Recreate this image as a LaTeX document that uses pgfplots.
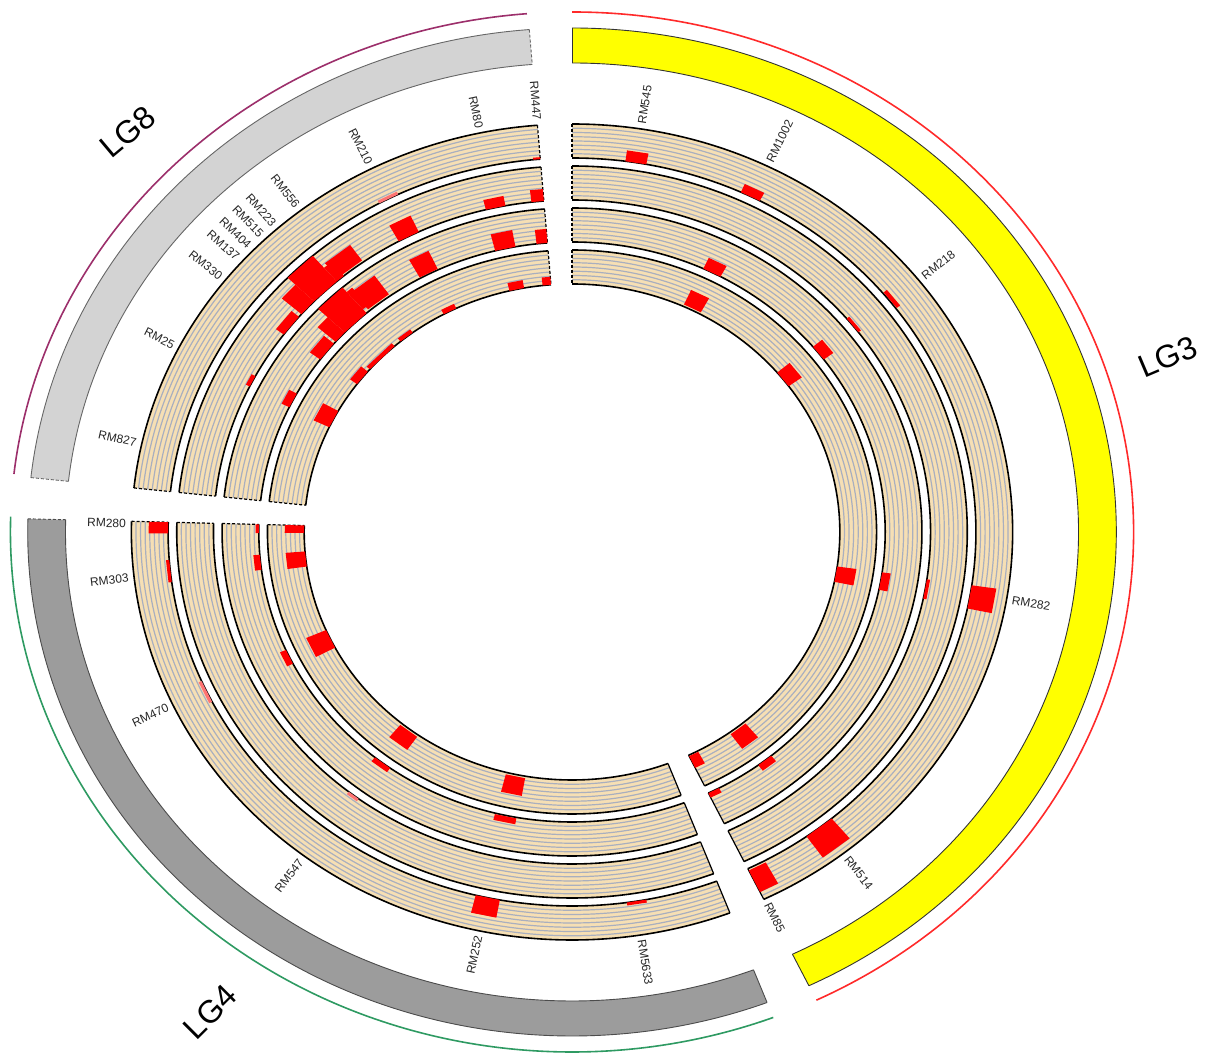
\documentclass[border=0pt]{standalone}
\usepackage{pgfplots}
\pgfplotsset{compat=1.18}
\usepackage{fontspec}
\setmainfont{Liberation Sans}

\definecolor{tanC}{HTML}{F6DFB4}
\definecolor{subC}{HTML}{A9AFBF}
\definecolor{lgEight}{HTML}{D3D3D3}
\definecolor{lgEightLine}{HTML}{9C2F6B}
\definecolor{lgFour}{HTML}{9C9C9C}
\definecolor{lgFourLine}{HTML}{2E9A62}
\definecolor{lgThree}{HTML}{FFFF00}
\definecolor{lgThreeLine}{HTML}{FF2A2A}

\pgfdeclarelayer{bg}
\pgfsetlayers{bg,main}

% one track: start angle, end angle, outer radius, inner radius, style of start cap, style of end cap
\newcommand{\ring}[6]{%
  \fill[tanC] (#1:#3) arc[start angle=#1,end angle=#2,radius=#3] -- (#2:#4) arc[start angle=#2,end angle=#1,radius=#4] -- cycle;
  \foreach \k in {1,...,7}{%
    \pgfmathsetmacro\rr{#3-\k*(#3-#4)/8}%
    \draw[subC,line width=1.2pt] (#1:\rr) arc[start angle=#1,end angle=#2,radius=\rr];}
  \draw[black,line width=1.6pt] (#1:#3) arc[start angle=#1,end angle=#2,radius=#3];
  \draw[black,line width=1.6pt] (#1:#4) arc[start angle=#1,end angle=#2,radius=#4];
  \draw[black,line width=1.2pt,#5] (#1:#3) -- (#1:#4);
  \draw[black,line width=1.2pt,#6] (#2:#3) -- (#2:#4);
}
% chromosome band: start, end, fill, outline, start cap, end cap
\newcommand{\band}[6]{%
  \fill[#3] (#1:504) arc[start angle=#1,end angle=#2,radius=504] -- (#2:469) arc[start angle=#2,end angle=#1,radius=469] -- cycle;
  \draw[#4,line width=0.9pt] (#1:504) arc[start angle=#1,end angle=#2,radius=504];
  \draw[#4,line width=0.9pt] (#1:469) arc[start angle=#1,end angle=#2,radius=469];
  \draw[#4,line width=0.9pt,#5] (#1:504) -- (#1:469);
  \draw[#4,line width=0.9pt,#6] (#2:504) -- (#2:469);
}
% QTL block: start angle, end angle, inner radius, outer radius
\newcommand{\blk}[4]{\addplot[qtl] coordinates {(#1,#3) (#2,#3) (#2,#4) (#1,#4)};}
\newcommand{\fblk}[4]{\addplot[qtl,fill=red!55] coordinates {(#1,#3) (#2,#3) (#2,#4) (#1,#4)};}
% marker labels: right half reads outward, left half reads inward
\newcommand{\rlab}[2]{\node[mk,anchor=west,rotate=#1] at (#1:413) {#2};}
\newcommand{\llab}[2]{\node[mk,anchor=east,rotate=#1-180] at (#1:413) {#2};}

\tikzset{
  dsh/.style={dash pattern=on 3pt off 2pt},
  sol/.style={},
  mk/.style={font=\fontsize{12}{14}\selectfont,text=black!85,inner sep=0pt},
  lg/.style={font=\fontsize{32}{36}\selectfont,text=black,inner sep=0pt},
}

\begin{document}
\begin{tikzpicture}
\begin{axis}[
  x=1.08pt, y=1pt,
  xmin=-529.63, xmax=593.52, ymin=-525, ymax=532,
  hide axis, clip=false,
  qtl/.style={data cs=polar, fill=red, draw=none, mark=none, forget plot},
]
\coordinate (O) at (axis cs:0,0);
\coordinate (SW) at (rel axis cs:0,0);
\coordinate (NE) at (rel axis cs:1,1);

% LG3
\blk{79.4}{82.4}{374}{385}
\blk{62.3}{65.3}{374}{383}
\blk{61.7}{65.2}{290}{302}
\blk{61.5}{65.5}{250}{266}
\blk{36.7}{39.7}{375}{379}
\blk{37}{40}{332}{335}
\blk{36.5}{39.7}{290}{301}
\blk{36}{40}{248}{263}
\blk{-11.8}{-8.2}{374}{397}
\blk{-11.6}{-8.2}{332}{335}
\blk{-11.5}{-8}{290}{298}
\blk{-11.6}{-8}{248}{266}
\blk{-54.5}{-50}{374}{400}
\blk{-53.5}{-50.5}{290}{297}
\blk{-54}{-50}{250}{268}
\blk{-64.2}{-61.5}{376}{400}
\blk{-64.2}{-62}{290}{295}
\blk{-64.2}{-62}{249}{262}

% LG4
\blk{178.5}{180.2}{374}{392}
\blk{184.3}{187.7}{374}{377}
\blk{178.5}{180.2}{290}{293}
\blk{184.5}{187.5}{290}{296}
\blk{178.5}{180.2}{248}{266}
\blk{184.5}{188}{248}{266}
\blk{203.3}{207.8}{248}{268}
\blk{204}{207}{290}{296}
\fblk{203.5}{207}{374}{377}
\blk{230.5}{235}{250}{266}
\blk{231}{234.5}{290}{295}
\fblk{231.5}{233.5}{332}{335}
\blk{255.8}{260}{250}{268}
\blk{255.8}{259.8}{291}{297}
\blk{256.2}{259.7}{374}{392}
\blk{277.8}{280.6}{374}{377}

% LG8
\blk{94.5}{95.5}{374}{376}
\blk{100.7}{103.9}{332}{342}
\blk{94.5}{96.5}{332}{344}
\blk{115.3}{118.9}{332}{350}
\blk{100.4}{104.2}{290}{307}
\blk{94.5}{96.5}{290}{304}
\blk{115.3}{119}{291}{311}
\blk{100.3}{103.5}{248}{256}
\blk{94.5}{96.3}{248}{256}
\blk{115.6}{118.6}{248}{253}
\blk{125.6}{130.4}{334}{353}
\blk{129.5}{131}{332}{350}
\blk{131}{136}{332}{366}
\blk{136}{139}{332}{356}
\blk{129.8}{131}{295}{318}
\blk{131}{136.5}{290}{324}
\blk{136.5}{139}{290}{312}
\blk{125.5}{130.3}{292}{315}
\blk{139.6}{143.5}{332}{341}
\blk{139.5}{143.5}{290}{302}
\blk{139.7}{143.4}{248}{256}
\blk{131.5}{139}{248}{252}
\blk{126.5}{129.8}{248}{252}
\blk{151.5}{154.5}{290}{298}
\blk{150.8}{155}{248}{264}
\fblk{115.5}{118.5}{374}{377}
\blk{152}{154}{332}{336}
\end{axis}

\begin{pgfonlayer}{bg}
\begin{scope}[shift={(O)},x=1.08pt,y=1pt]
  % LG3 segment
  \ring{90}{-64.2}{408}{374}{dsh}{sol}
  \ring{90}{-64.2}{366}{332}{dsh}{sol}
  \ring{90}{-64.2}{324}{290}{dsh}{sol}
  \ring{90}{-64.2}{282}{248}{dsh}{sol}
  \band{90}{-64.2}{lgThree}{black!80}{sol}{sol}
  \draw[lgThreeLine,line width=1.6pt] (90:520) arc[start angle=90,end angle=-64.2,radius=520];
  % LG4 segment
  \ring{-69}{-181.5}{408}{374}{sol}{dsh}
  \ring{-69}{-181.5}{366}{332}{sol}{dsh}
  \ring{-69}{-181.5}{324}{290}{sol}{dsh}
  \ring{-69}{-181.5}{282}{248}{sol}{dsh}
  \band{-69}{-181.5}{lgFour}{black!70}{sol}{dsh}
  \draw[lgFourLine,line width=1.6pt] (-69:520) arc[start angle=-69,end angle=-181.7,radius=520];
  % LG8 segment
  \ring{173.8}{94.5}{408}{374}{dsh}{dsh}
  \ring{173.8}{94.5}{366}{332}{dsh}{dsh}
  \ring{173.8}{94.5}{324}{290}{dsh}{dsh}
  \ring{173.8}{94.5}{282}{248}{dsh}{dsh}
  \band{173.8}{94.5}{lgEight}{black!60}{dsh}{dsh}
  \draw[lgEightLine,line width=1.6pt] (173.6:520) arc[start angle=173.6,end angle=94.6,radius=520];
\end{scope}
\end{pgfonlayer}

\begin{scope}[shift={(O)},x=1.08pt,y=1pt]
  % marker names
  \rlab{81}{RM545}
  \rlab{63.7}{RM1002}
  \rlab{38.1}{RM218}
  \rlab{-9.5}{RM282}
  \rlab{-52}{RM514}
  \rlab{-64}{RM85}
  \rlab{-81}{RM5633}
  \llab{94.5}{RM447}
  \llab{102}{RM80}
  \llab{117}{RM210}
  \llab{128}{RM556}
  \llab{131.9}{RM223}
  \llab{134.1}{RM515}
  \llab{136.3}{RM404}
  \llab{138.5}{RM137}
  \llab{141.9}{RM330}
  \llab{153.2}{RM25}
  \llab{167.5}{RM827}
  \llab{178.8}{RM280}
  \llab{186.4}{RM303}
  \llab{205.1}{RM470}
  \llab{232.6}{RM547}
  \llab{257.9}{RM252}
  % linkage group names
  \node[lg,rotate=40] at (-411.1,400) {LG8};
  \node[lg,rotate=23] at (551.9,175) {LG3};
  \node[lg,rotate=45] at (-335,-480) {LG4};
\end{scope}

\pgfresetboundingbox
\path (SW) rectangle (NE);
\end{tikzpicture}
\end{document}
